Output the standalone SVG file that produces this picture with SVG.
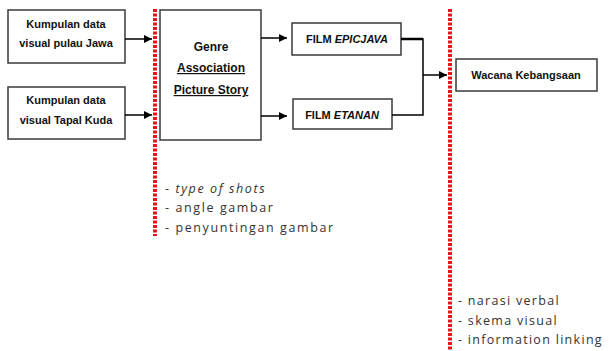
<svg xmlns="http://www.w3.org/2000/svg" width="611" height="351" viewBox="0 0 611 351">
<defs>
<marker id="ah" markerWidth="9" markerHeight="9" refX="8" refY="4.5" orient="auto" markerUnits="userSpaceOnUse">
<path d="M0,0.5 L8,4.5 L0,8.5 Z" fill="#000"/>
</marker>
</defs>
<style>
.box{fill:#fff;stroke:#3a3a3a;stroke-width:1.5}
.t{font-family:"Liberation Sans",Arial,sans-serif;font-weight:bold;font-size:11px;fill:#111;text-anchor:middle}
.g{font-family:"Liberation Sans",Arial,sans-serif;font-weight:bold;font-size:12px;fill:#111;text-anchor:middle}
.red{stroke:#e8141c;stroke-width:4;stroke-dasharray:3 1.5;fill:none}
.c{stroke:#000;stroke-width:1.5;fill:none}
.b{font-family:"Open Sans","DejaVu Sans",sans-serif;font-size:12.5px;fill:#333;letter-spacing:1.3px}
.bl{letter-spacing:1.6px}
</style>
<rect width="611" height="351" fill="#fff"/>
<g id="dividers">
<line class="red" x1="155" y1="9" x2="155" y2="236"/>
<line class="red" x1="450" y1="9" x2="450" y2="351"/>
</g>
<g id="n1">
<rect class="box" x="8" y="10" width="117" height="53"/>
<text class="t" x="66" y="28">Kumpulan data</text>
<text class="t" x="66" y="47">visual pulau Jawa</text>
</g>
<g id="n2">
<rect class="box" x="8" y="87" width="117" height="52"/>
<text class="t" x="66" y="104">Kumpulan data</text>
<text class="t" x="66" y="124">visual Tapal Kuda</text>
</g>
<g id="n3">
<rect class="box" x="160" y="10" width="101" height="130"/>
<text class="g" x="211" y="51">Genre</text>
<text class="g" x="211" y="72" text-decoration="underline">Association</text>
<text class="g" x="211" y="94" text-decoration="underline">Picture Story</text>
</g>
<g id="n4">
<rect class="box" x="292" y="23" width="109" height="32"/>
<text class="t" x="347" y="43">FILM <tspan font-style="italic">EPICJAVA</tspan></text>
</g>
<g id="n5">
<rect class="box" x="293" y="99" width="99" height="30"/>
<text class="t" x="342" y="119">FILM <tspan font-style="italic">ETANAN</tspan></text>
</g>
<g id="n6">
<rect class="box" x="456" y="59" width="141" height="32"/>
<text class="t" x="526" y="79">Wacana Kebangsaan</text>
</g>
<g id="connectors">
<path class="c" d="M125,39 L152,39" stroke-width="2" marker-end="url(#ah)"/>
<path class="c" d="M125,115 L152,115" stroke-width="2" marker-end="url(#ah)"/>
<path class="c" d="M261,38 L287,38" stroke-width="2" marker-end="url(#ah)"/>
<path class="c" d="M261,116 L287,116" stroke-width="2" marker-end="url(#ah)"/>
<path class="c" d="M401,39 L423,39 L423,115 L392,115" stroke-width="1.5"/>
<path d="M401,39 L423,39" stroke="#000" stroke-width="2.5"/>
<path class="c" d="M423,75 L447,75" marker-end="url(#ah)"/>
</g>
<g id="notes">
<text class="b bl" x="165" y="193">- <tspan font-style="italic">type of shots</tspan></text>
<text class="b bl" x="165" y="212">- angle gambar</text>
<text class="b bl" x="165" y="232">- penyuntingan gambar</text>
<text class="b" x="458" y="305">- narasi verbal</text>
<text class="b" x="458" y="325">- skema visual</text>
<text class="b" x="458" y="344">- information linking</text>
</g>
</svg>
